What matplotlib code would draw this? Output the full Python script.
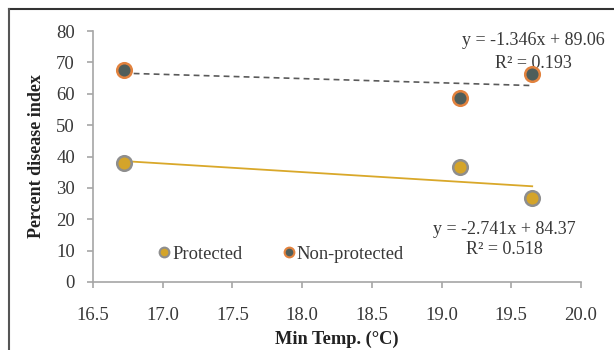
import matplotlib
matplotlib.use("Agg")
import matplotlib.pyplot as plt
from matplotlib.lines import Line2D
import numpy as np

plt.rcParams['font.family'] = ['Liberation Serif', 'DejaVu Serif']

# Minimum temperature (°C) and disease index per treatment
min_temp = [16.72, 19.13, 19.65]
protected = [37.9, 36.6, 26.8]
non_protected = [67.5, 58.7, 66.4]

# Linear trend coefficients (slope, intercept) and R²
prot_fit = (-2.741, 84.37, 0.518)
nonprot_fit = (-1.346, 89.06, 0.193)

x_ticks = [16.5, 17.0, 17.5, 18.0, 18.5, 19.0, 19.5, 20.0]
y_ticks = [0, 10, 20, 30, 40, 50, 60, 70, 80]

fig = plt.figure(figsize=(6.14, 3.5), dpi=100)
ax = fig.add_axes([93/614, 1 - 282/350, (581-93)/614, (282-31)/350])

gold = '#D4A42A'
gold_edge = '#8E8E8E'
slate = '#4F5E5B'
slate_edge = '#E2823E'
text_col = '#383838'

xs = np.array([min(min_temp), max(min_temp)])
ax.plot(xs, prot_fit[0]*xs + prot_fit[1], color='#D9A82A', lw=1.3, zorder=2)
ax.plot(xs, nonprot_fit[0]*xs + nonprot_fit[1], color='#5A5A5A', lw=1.2,
        ls=(0, (3.5, 2.5)), zorder=2)

ax.plot(min_temp, protected, 'o', ms=10.5, mfc=gold, mec=gold_edge, mew=1.8,
        ls='none', zorder=3)
ax.plot(min_temp, non_protected, 'o', ms=10.5, mfc=slate, mec=slate_edge, mew=1.8,
        ls='none', zorder=3)

ax.set_xlim(16.5, 20.0)
ax.set_ylim(0, 80)
ax.set_xticks(x_ticks)
ax.set_xticklabels([f'{v:.1f}' for v in x_ticks])
ax.set_yticks(y_ticks)
for s in ['top', 'right']:
    ax.spines[s].set_visible(False)
for s in ['left', 'bottom']:
    ax.spines[s].set_color('#A6A6A6')
    ax.spines[s].set_linewidth(1.2)
ax.tick_params(axis='both', direction='out', length=4, width=1.2, color='#A6A6A6',
               labelsize=13.5, labelcolor=text_col)
ax.tick_params(axis='x', pad=14)
ax.tick_params(axis='y', pad=9)

ax.set_xlabel('Min Temp. (°C)', fontsize=13.2, fontweight='bold', color='#222222', labelpad=5)
ax.set_ylabel('Percent disease index', fontsize=13, fontweight='bold', color='#222222',
              labelpad=8)

# Trend equations
ax.text(19.66, 77.0, f'y = {nonprot_fit[0]:.3f}x + {nonprot_fit[1]:.2f}',
        ha='center', va='center', fontsize=13, color=text_col, zorder=4)
ax.text(19.66, 69.5, f'R² = {nonprot_fit[2]:.3f}',
        ha='center', va='center', fontsize=13, color=text_col, zorder=1)
ax.text(19.45, 16.6, f'y = {prot_fit[0]:.3f}x + {prot_fit[1]:.2f}',
        ha='center', va='center', fontsize=13, color=text_col)
ax.text(19.45, 10.5, f'R² = {prot_fit[2]:.3f}',
        ha='center', va='center', fontsize=13, color=text_col)

handles = [
    Line2D([], [], marker='o', ls='none', ms=7, mfc=gold, mec=gold_edge, mew=1.5),
    Line2D([], [], marker='o', ls='none', ms=7, mfc=slate, mec=slate_edge, mew=1.5),
]
leg = ax.legend(handles, ['Protected', 'Non-protected'], loc='lower left',
                bbox_to_anchor=(0.1, 0.01), ncol=2, frameon=False, fontsize=13.3,
                handlelength=0.6, handletextpad=0.15, columnspacing=2.2)
for t in leg.get_texts():
    t.set_color(text_col)

# Outer frame
fig.add_artist(Line2D([9/614, 1], [1 - 9/350]*2, color='#333333', lw=1.5,
                      transform=fig.transFigure))
fig.add_artist(Line2D([9/614]*2, [0, 1 - 9/350], color='#555555', lw=1.5,
                      transform=fig.transFigure))

fig.savefig('out.png', dpi=100)
